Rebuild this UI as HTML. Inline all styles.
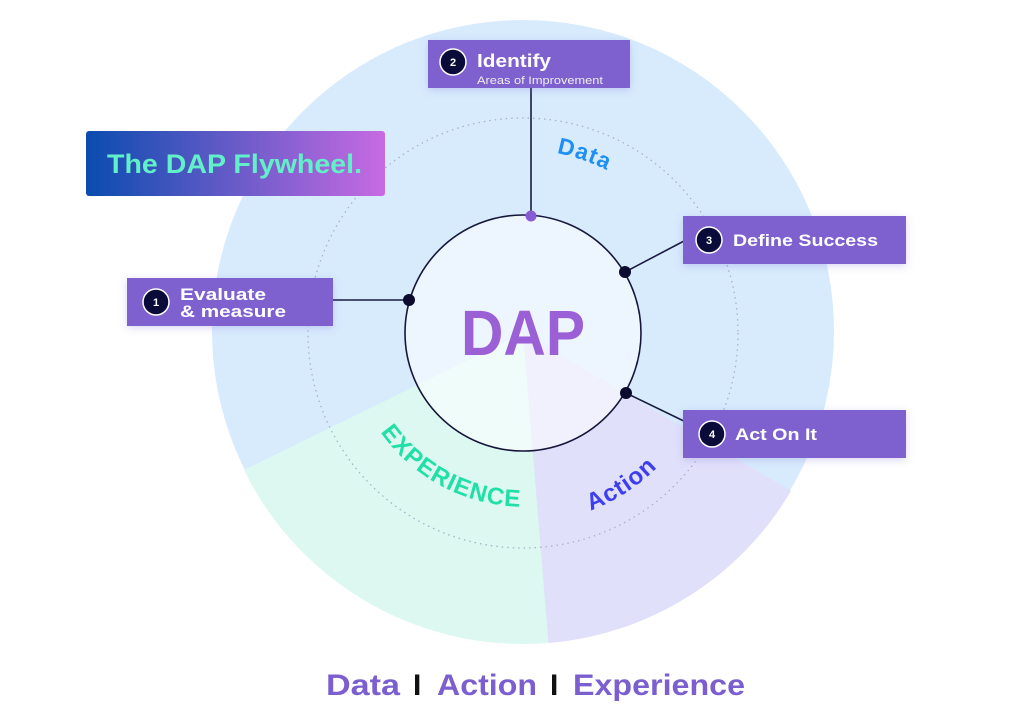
<!DOCTYPE html>
<html><head><meta charset="utf-8"><style>
body{margin:0;background:#fff;}
svg{display:block;font-family:"Liberation Sans",sans-serif;}
</style></head><body>
<svg width="1024" height="724" viewBox="0 0 1024 724" xmlns="http://www.w3.org/2000/svg">
<defs>
<linearGradient id="tg" x1="0" x2="1" y1="0" y2="0"><stop offset="0" stop-color="#0a4caf"/><stop offset="1" stop-color="#c86ae2"/></linearGradient>
<filter id="sh" x="-20%" y="-30%" width="140%" height="160%"><feDropShadow dx="0" dy="2" stdDeviation="4" flood-color="#6a5acd" flood-opacity="0.25"/></filter>
<path id="pData" d="M457.5,162.1 A183,183 0 0 1 679.9,238.7"/>
<path id="pExp" d="M361.7,398.2 A176,176 0 0 0 559.2,503.2"/>
<path id="pAct" d="M499.8,521.6 A190,190 0 0 0 704.7,388.5"/>
</defs>
<circle cx="523" cy="331" r="311" fill="#d8ebfd"/>
<path d="M523,333 L244,470 A311,311 0 0 0 548.5,643 Z" fill="#dcf8f1"/>
<path d="M523,333 L548.5,643 A311,311 0 0 0 791,491 Z" fill="#e1e0fb"/>
<circle cx="523" cy="333" r="215" fill="none" stroke="#aab2c4" stroke-width="1.3" stroke-dasharray="1.5 4"/>
<circle cx="523" cy="333" r="118" fill="#fff" fill-opacity="0.55" stroke="#16163a" stroke-width="1.6"/>
<text x="523" y="355" text-anchor="middle" font-size="64" font-weight="bold" fill="#9b5fd6" textLength="124" lengthAdjust="spacingAndGlyphs">DAP</text>
<text font-size="23" font-weight="bold" fill="#1e90f5" letter-spacing="1"><textPath href="#pData" startOffset="50%" text-anchor="middle">Data</textPath></text>
<text font-size="24" font-weight="bold" fill="#20e0a8" letter-spacing="1"><textPath href="#pExp" startOffset="50%" text-anchor="middle">EXPERIENCE</textPath></text>
<text font-size="24" font-weight="bold" fill="#3d3ef0" letter-spacing="1"><textPath href="#pAct" startOffset="50%" text-anchor="middle">Action</textPath></text>
<line x1="531" y1="88" x2="531" y2="216" stroke="#1a1a40" stroke-width="1.6"/>
<circle cx="531" cy="216" r="5.5" fill="#8a5cd4"/>
<line x1="333" y1="300" x2="409" y2="300" stroke="#1a1a40" stroke-width="1.6"/>
<circle cx="409" cy="300" r="6" fill="#0b0b30"/>
<line x1="625" y1="272" x2="684" y2="241" stroke="#1a1a40" stroke-width="1.6"/>
<circle cx="625" cy="272" r="6" fill="#0b0b30"/>
<line x1="626" y1="393" x2="692" y2="425" stroke="#1a1a40" stroke-width="1.6"/>
<circle cx="626" cy="393" r="6" fill="#0b0b30"/>
<rect x="86" y="131" width="299" height="65" rx="3" fill="url(#tg)"/>
<text x="107" y="173" font-size="27" font-weight="bold" fill="#62f0c8" textLength="255" lengthAdjust="spacingAndGlyphs">The DAP Flywheel.</text>
<g filter="url(#sh)">
<rect x="428" y="40" width="202" height="48" fill="#7f60cf"/>
<rect x="127" y="278" width="206" height="48" fill="#7f60cf"/>
<rect x="683" y="216" width="223" height="48" fill="#7f60cf"/>
<rect x="683" y="410" width="223" height="48" fill="#7f60cf"/>
</g>
<g fill="#0b0b3a" stroke="#fff" stroke-width="1.5">
<circle cx="453" cy="62" r="13"/>
<circle cx="156" cy="302" r="13"/>
<circle cx="709" cy="240" r="13"/>
<circle cx="712" cy="434" r="13"/>
</g>
<g fill="#fff" font-weight="bold" font-size="11" text-anchor="middle">
<text x="453" y="66">2</text><text x="156" y="306">1</text><text x="709" y="244">3</text><text x="712" y="438">4</text>
</g>
<g fill="#fff" font-weight="bold">
<text x="477" y="67" font-size="18" textLength="74" lengthAdjust="spacingAndGlyphs">Identify</text>
<text x="477" y="84" font-size="11" font-weight="normal" fill="#eee" textLength="126" lengthAdjust="spacingAndGlyphs">Areas of Improvement</text>
<text x="180" y="300" font-size="17" textLength="86" lengthAdjust="spacingAndGlyphs">Evaluate</text>
<text x="180" y="317" font-size="17" textLength="106" lengthAdjust="spacingAndGlyphs">&amp; measure</text>
<text x="733" y="246" font-size="17" textLength="145" lengthAdjust="spacingAndGlyphs">Define Success</text>
<text x="735" y="440" font-size="17" textLength="82" lengthAdjust="spacingAndGlyphs">Act On It</text>
</g>
<g font-size="30" font-weight="bold">
<text x="326" y="695" fill="#7b5fd0" textLength="74" lengthAdjust="spacingAndGlyphs">Data</text>
<text x="413" y="695" fill="#111">I</text>
<text x="437" y="695" fill="#7b5fd0" textLength="100" lengthAdjust="spacingAndGlyphs">Action</text>
<text x="550" y="695" fill="#111">I</text>
<text x="573" y="695" fill="#7b5fd0" textLength="172" lengthAdjust="spacingAndGlyphs">Experience</text>
</g>
</svg>
</body></html>
